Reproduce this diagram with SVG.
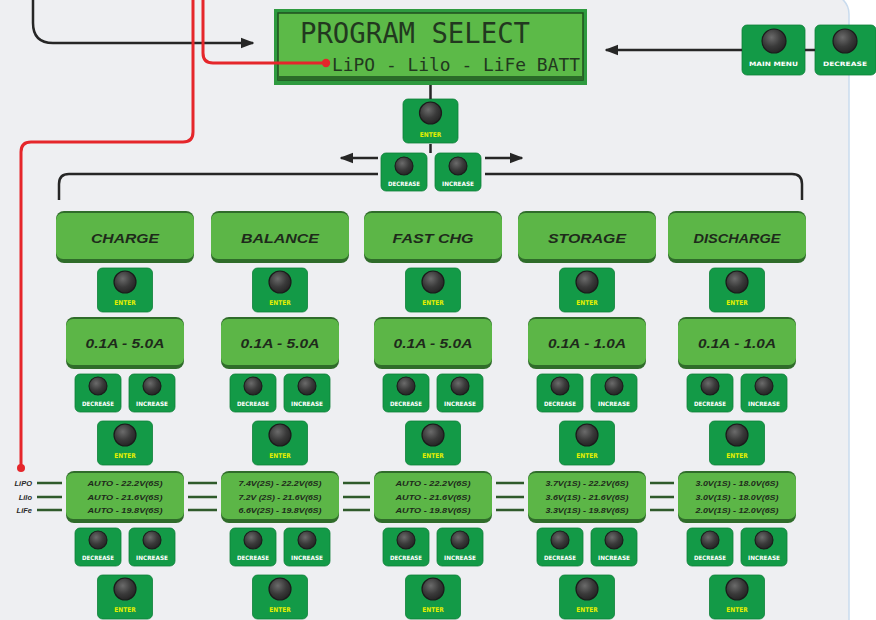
<svg xmlns="http://www.w3.org/2000/svg" width="876" height="620" viewBox="0 0 876 620">
<style>
.btn{fill:#139a47;stroke:#0e8039;stroke-width:0.8}
.shd{fill:#b9c2bb}
.bdark{fill:#2f6c2a}
.blite{fill:#5cb647}
.lw{font-family:"DejaVu Sans Condensed","DejaVu Sans",sans-serif;font-weight:bold;font-size:6px;fill:#ffffff;text-anchor:middle}
.ly{font-family:"DejaVu Sans Condensed","DejaVu Sans",sans-serif;font-weight:bold;font-size:6.5px;fill:#e4ef00;text-anchor:middle}
.mt{font-family:"Liberation Sans",Arial,sans-serif;font-weight:bold;font-style:italic;font-size:13.5px;fill:#1e2a1b;text-anchor:middle}
.vt{font-family:"Liberation Sans",Arial,sans-serif;font-weight:bold;font-style:italic;font-size:7px;fill:#1e2a1b;text-anchor:middle}
.bt{font-family:"Liberation Sans",Arial,sans-serif;font-weight:bold;font-style:italic;font-size:7.5px;fill:#2a2a2a;text-anchor:end}
.lcd{font-family:"DejaVu Sans Mono","Liberation Mono",monospace;fill:#22381f}
.blk{fill:none;stroke:#262626;stroke-width:2.5}
.red{fill:none;stroke:#e5262b;stroke-width:3}
.tri{fill:none;stroke:#2f5a2b;stroke-width:2.6}
</style>
<defs>
<radialGradient id="kg" cx="40%" cy="35%" r="70%">
<stop offset="0" stop-color="#6b6b6b"/><stop offset="0.55" stop-color="#3a3a3a"/><stop offset="1" stop-color="#222"/>
</radialGradient>
<marker id="ah" viewBox="0 0 10 10" refX="9" refY="5" markerWidth="5.5" markerHeight="5.5" orient="auto" markerUnits="strokeWidth">
<path d="M0,1 L10,5 L0,9 z" fill="#262626"/>
</marker>
<rect id="bL" width="55" height="44" rx="5"/>
<rect id="bS" width="46" height="38" rx="5"/>
<circle id="kL" r="11" fill="url(#kg)" stroke="#1b1b1b" stroke-width="1.2"/>
<circle id="kS" r="9" fill="url(#kg)" stroke="#1b1b1b" stroke-width="1.1"/>
<circle id="kM" r="12" fill="url(#kg)" stroke="#1b1b1b" stroke-width="1.2"/>
</defs>

<rect x="-20" y="-6" width="869" height="650" rx="20" fill="#eeeff2" stroke="#c9dbee" stroke-width="1.5"/>

<g id="battery-labels">
<text class="bt" x="32" y="486">LiPO</text>
<text class="bt" x="32" y="500">Lilo</text>
<text class="bt" x="32" y="513">LiFe</text>
</g>

<g id="lcd">
<rect x="274" y="9" width="313" height="76" fill="#2e9a3f"/>
<rect x="278" y="13" width="305" height="67" fill="#5cba48" stroke="#1f4f1f" stroke-width="1.5"/>
<rect x="278" y="76" width="305" height="4" fill="#2a6b28"/>
<text class="lcd" x="300" y="43" font-size="29" textLength="230" lengthAdjust="spacingAndGlyphs">PROGRAM SELECT</text>
<text class="lcd" x="332" y="71" font-size="18.5" textLength="248" lengthAdjust="spacingAndGlyphs">LiPO - Lilo - LiFe BATT</text>
</g>

<g id="btn-main-menu">
<rect x="742" y="25" width="63" height="50" rx="5" class="btn"/>
<use href="#kM" x="774" y="41"/>
<text class="lw" x="773.5" y="66" font-size="7.5" textLength="49" lengthAdjust="spacingAndGlyphs">MAIN MENU</text>
</g>
<g id="btn-top-decrease">
<rect x="815" y="25" width="61" height="50" rx="5" class="btn"/>
<use href="#kM" x="845" y="41"/>
<text class="lw" x="845" y="66" font-size="7.5" textLength="44" lengthAdjust="spacingAndGlyphs">DECREASE</text>
</g>
<g id="btn-top-enter">
<use href="#bL" x="403" y="99" class="btn"/>
<use href="#kL" x="430.5" y="113"/>
<text class="ly" x="430.5" y="137">ENTER</text>
</g>
<g id="btn-top-dec">
<use href="#bS" x="381" y="153" class="btn"/>
<use href="#kS" x="404" y="166"/>
<text class="lw" x="404" y="186" font-size="5.5" textLength="32" lengthAdjust="spacingAndGlyphs">DECREASE</text>
</g>
<g id="btn-top-inc">
<use href="#bS" x="435" y="153" class="btn"/>
<use href="#kS" x="458" y="166"/>
<text class="lw" x="458" y="186" font-size="5.5" textLength="32" lengthAdjust="spacingAndGlyphs">INCREASE</text>
</g>

<!-- Column 1: CHARGE c=125 -->
<g id="mode-charge"><rect class="bdark" x="56" y="211" width="138" height="52" rx="8"/><rect class="blite" x="56" y="213" width="138" height="46" rx="7"/><text class="mt" x="125" y="243" textLength="68" lengthAdjust="spacingAndGlyphs">CHARGE</text></g>
<g id="charge-enter1"><use href="#bL" x="97.5" y="268" class="btn"/><use href="#kL" x="125" y="282"/><text class="ly" x="125" y="305">ENTER</text></g>
<g id="charge-current"><rect class="bdark" x="66" y="317" width="118" height="52" rx="8"/><rect class="blite" x="66" y="319" width="118" height="46" rx="7"/><text class="mt" x="125" y="348" textLength="79" lengthAdjust="spacingAndGlyphs">0.1A - 5.0A</text></g>
<g id="charge-dec1"><use href="#bS" x="75" y="374" class="btn"/><use href="#kS" x="98" y="386"/><text class="lw" x="98" y="406" textLength="32" lengthAdjust="spacingAndGlyphs">DECREASE</text></g>
<g id="charge-inc1"><use href="#bS" x="129" y="374" class="btn"/><use href="#kS" x="152" y="386"/><text class="lw" x="152" y="406" textLength="32" lengthAdjust="spacingAndGlyphs">INCREASE</text></g>
<g id="charge-enter2"><use href="#bL" x="97.5" y="421" class="btn"/><use href="#kL" x="125" y="435"/><text class="ly" x="125" y="458">ENTER</text></g>
<g id="charge-volt"><rect class="bdark" x="66" y="471" width="118" height="52" rx="8"/><rect class="blite" x="66" y="473" width="118" height="46" rx="7"/>
<text class="vt" x="125" y="485.5" textLength="75" lengthAdjust="spacingAndGlyphs">AUTO - 22.2V(6S)</text>
<text class="vt" x="125" y="499.5" textLength="75" lengthAdjust="spacingAndGlyphs">AUTO - 21.6V(6S)</text>
<text class="vt" x="125" y="512.5" textLength="75" lengthAdjust="spacingAndGlyphs">AUTO - 19.8V(6S)</text></g>
<g id="charge-dec2"><use href="#bS" x="75" y="528" class="btn"/><use href="#kS" x="98" y="540"/><text class="lw" x="98" y="560" textLength="32" lengthAdjust="spacingAndGlyphs">DECREASE</text></g>
<g id="charge-inc2"><use href="#bS" x="129" y="528" class="btn"/><use href="#kS" x="152" y="540"/><text class="lw" x="152" y="560" textLength="32" lengthAdjust="spacingAndGlyphs">INCREASE</text></g>
<g id="charge-enter3"><use href="#bL" x="97.5" y="575" class="btn"/><use href="#kL" x="125" y="589"/><text class="ly" x="125" y="612">ENTER</text></g>

<!-- Column 2: BALANCE c=280 -->
<g id="mode-balance"><rect class="bdark" x="211" y="211" width="138" height="52" rx="8"/><rect class="blite" x="211" y="213" width="138" height="46" rx="7"/><text class="mt" x="280" y="243" textLength="78" lengthAdjust="spacingAndGlyphs">BALANCE</text></g>
<g id="balance-enter1"><use href="#bL" x="252.5" y="268" class="btn"/><use href="#kL" x="280" y="282"/><text class="ly" x="280" y="305">ENTER</text></g>
<g id="balance-current"><rect class="bdark" x="221" y="317" width="118" height="52" rx="8"/><rect class="blite" x="221" y="319" width="118" height="46" rx="7"/><text class="mt" x="280" y="348" textLength="79" lengthAdjust="spacingAndGlyphs">0.1A - 5.0A</text></g>
<g id="balance-dec1"><use href="#bS" x="230" y="374" class="btn"/><use href="#kS" x="253" y="386"/><text class="lw" x="253" y="406" textLength="32" lengthAdjust="spacingAndGlyphs">DECREASE</text></g>
<g id="balance-inc1"><use href="#bS" x="284" y="374" class="btn"/><use href="#kS" x="307" y="386"/><text class="lw" x="307" y="406" textLength="32" lengthAdjust="spacingAndGlyphs">INCREASE</text></g>
<g id="balance-enter2"><use href="#bL" x="252.5" y="421" class="btn"/><use href="#kL" x="280" y="435"/><text class="ly" x="280" y="458">ENTER</text></g>
<g id="balance-volt"><rect class="bdark" x="221" y="471" width="118" height="52" rx="8"/><rect class="blite" x="221" y="473" width="118" height="46" rx="7"/>
<text class="vt" x="280" y="485.5" textLength="83" lengthAdjust="spacingAndGlyphs">7.4V(2S) - 22.2V(6S)</text>
<text class="vt" x="280" y="499.5" textLength="83" lengthAdjust="spacingAndGlyphs">7.2V (2S) - 21.6V(6S)</text>
<text class="vt" x="280" y="512.5" textLength="83" lengthAdjust="spacingAndGlyphs">6.6V(2S) - 19.8V(6S)</text></g>
<g id="balance-dec2"><use href="#bS" x="230" y="528" class="btn"/><use href="#kS" x="253" y="540"/><text class="lw" x="253" y="560" textLength="32" lengthAdjust="spacingAndGlyphs">DECREASE</text></g>
<g id="balance-inc2"><use href="#bS" x="284" y="528" class="btn"/><use href="#kS" x="307" y="540"/><text class="lw" x="307" y="560" textLength="32" lengthAdjust="spacingAndGlyphs">INCREASE</text></g>
<g id="balance-enter3"><use href="#bL" x="252.5" y="575" class="btn"/><use href="#kL" x="280" y="589"/><text class="ly" x="280" y="612">ENTER</text></g>

<!-- Column 3: FAST CHG c=433 -->
<g id="mode-fastchg"><rect class="bdark" x="364" y="211" width="138" height="52" rx="8"/><rect class="blite" x="364" y="213" width="138" height="46" rx="7"/><text class="mt" x="433" y="243" textLength="81" lengthAdjust="spacingAndGlyphs">FAST CHG</text></g>
<g id="fastchg-enter1"><use href="#bL" x="405.5" y="268" class="btn"/><use href="#kL" x="433" y="282"/><text class="ly" x="433" y="305">ENTER</text></g>
<g id="fastchg-current"><rect class="bdark" x="374" y="317" width="118" height="52" rx="8"/><rect class="blite" x="374" y="319" width="118" height="46" rx="7"/><text class="mt" x="433" y="348" textLength="79" lengthAdjust="spacingAndGlyphs">0.1A - 5.0A</text></g>
<g id="fastchg-dec1"><use href="#bS" x="383" y="374" class="btn"/><use href="#kS" x="406" y="386"/><text class="lw" x="406" y="406" textLength="32" lengthAdjust="spacingAndGlyphs">DECREASE</text></g>
<g id="fastchg-inc1"><use href="#bS" x="437" y="374" class="btn"/><use href="#kS" x="460" y="386"/><text class="lw" x="460" y="406" textLength="32" lengthAdjust="spacingAndGlyphs">INCREASE</text></g>
<g id="fastchg-enter2"><use href="#bL" x="405.5" y="421" class="btn"/><use href="#kL" x="433" y="435"/><text class="ly" x="433" y="458">ENTER</text></g>
<g id="fastchg-volt"><rect class="bdark" x="374" y="471" width="118" height="52" rx="8"/><rect class="blite" x="374" y="473" width="118" height="46" rx="7"/>
<text class="vt" x="433" y="485.5" textLength="75" lengthAdjust="spacingAndGlyphs">AUTO - 22.2V(6S)</text>
<text class="vt" x="433" y="499.5" textLength="75" lengthAdjust="spacingAndGlyphs">AUTO - 21.6V(6S)</text>
<text class="vt" x="433" y="512.5" textLength="75" lengthAdjust="spacingAndGlyphs">AUTO - 19.8V(6S)</text></g>
<g id="fastchg-dec2"><use href="#bS" x="383" y="528" class="btn"/><use href="#kS" x="406" y="540"/><text class="lw" x="406" y="560" textLength="32" lengthAdjust="spacingAndGlyphs">DECREASE</text></g>
<g id="fastchg-inc2"><use href="#bS" x="437" y="528" class="btn"/><use href="#kS" x="460" y="540"/><text class="lw" x="460" y="560" textLength="32" lengthAdjust="spacingAndGlyphs">INCREASE</text></g>
<g id="fastchg-enter3"><use href="#bL" x="405.5" y="575" class="btn"/><use href="#kL" x="433" y="589"/><text class="ly" x="433" y="612">ENTER</text></g>

<!-- Column 4: STORAGE c=587 -->
<g id="mode-storage"><rect class="bdark" x="518" y="211" width="138" height="52" rx="8"/><rect class="blite" x="518" y="213" width="138" height="46" rx="7"/><text class="mt" x="587" y="243" textLength="78" lengthAdjust="spacingAndGlyphs">STORAGE</text></g>
<g id="storage-enter1"><use href="#bL" x="559.5" y="268" class="btn"/><use href="#kL" x="587" y="282"/><text class="ly" x="587" y="305">ENTER</text></g>
<g id="storage-current"><rect class="bdark" x="528" y="317" width="118" height="52" rx="8"/><rect class="blite" x="528" y="319" width="118" height="46" rx="7"/><text class="mt" x="587" y="348" textLength="78" lengthAdjust="spacingAndGlyphs">0.1A - 1.0A</text></g>
<g id="storage-dec1"><use href="#bS" x="537" y="374" class="btn"/><use href="#kS" x="560" y="386"/><text class="lw" x="560" y="406" textLength="32" lengthAdjust="spacingAndGlyphs">DECREASE</text></g>
<g id="storage-inc1"><use href="#bS" x="591" y="374" class="btn"/><use href="#kS" x="614" y="386"/><text class="lw" x="614" y="406" textLength="32" lengthAdjust="spacingAndGlyphs">INCREASE</text></g>
<g id="storage-enter2"><use href="#bL" x="559.5" y="421" class="btn"/><use href="#kL" x="587" y="435"/><text class="ly" x="587" y="458">ENTER</text></g>
<g id="storage-volt"><rect class="bdark" x="528" y="471" width="118" height="52" rx="8"/><rect class="blite" x="528" y="473" width="118" height="46" rx="7"/>
<text class="vt" x="587" y="485.5" textLength="83" lengthAdjust="spacingAndGlyphs">3.7V(1S) - 22.2V(6S)</text>
<text class="vt" x="587" y="499.5" textLength="83" lengthAdjust="spacingAndGlyphs">3.6V(1S) - 21.6V(6S)</text>
<text class="vt" x="587" y="512.5" textLength="83" lengthAdjust="spacingAndGlyphs">3.3V(1S) - 19.8V(6S)</text></g>
<g id="storage-dec2"><use href="#bS" x="537" y="528" class="btn"/><use href="#kS" x="560" y="540"/><text class="lw" x="560" y="560" textLength="32" lengthAdjust="spacingAndGlyphs">DECREASE</text></g>
<g id="storage-inc2"><use href="#bS" x="591" y="528" class="btn"/><use href="#kS" x="614" y="540"/><text class="lw" x="614" y="560" textLength="32" lengthAdjust="spacingAndGlyphs">INCREASE</text></g>
<g id="storage-enter3"><use href="#bL" x="559.5" y="575" class="btn"/><use href="#kL" x="587" y="589"/><text class="ly" x="587" y="612">ENTER</text></g>

<!-- Column 5: DISCHARGE c=737 -->
<g id="mode-discharge"><rect class="bdark" x="668" y="211" width="138" height="52" rx="8"/><rect class="blite" x="668" y="213" width="138" height="46" rx="7"/><text class="mt" x="737" y="243" textLength="87" lengthAdjust="spacingAndGlyphs">DISCHARGE</text></g>
<g id="discharge-enter1"><use href="#bL" x="709.5" y="268" class="btn"/><use href="#kL" x="737" y="282"/><text class="ly" x="737" y="305">ENTER</text></g>
<g id="discharge-current"><rect class="bdark" x="678" y="317" width="118" height="52" rx="8"/><rect class="blite" x="678" y="319" width="118" height="46" rx="7"/><text class="mt" x="737" y="348" textLength="78" lengthAdjust="spacingAndGlyphs">0.1A - 1.0A</text></g>
<g id="discharge-dec1"><use href="#bS" x="687" y="374" class="btn"/><use href="#kS" x="710" y="386"/><text class="lw" x="710" y="406" textLength="32" lengthAdjust="spacingAndGlyphs">DECREASE</text></g>
<g id="discharge-inc1"><use href="#bS" x="741" y="374" class="btn"/><use href="#kS" x="764" y="386"/><text class="lw" x="764" y="406" textLength="32" lengthAdjust="spacingAndGlyphs">INCREASE</text></g>
<g id="discharge-enter2"><use href="#bL" x="709.5" y="421" class="btn"/><use href="#kL" x="737" y="435"/><text class="ly" x="737" y="458">ENTER</text></g>
<g id="discharge-volt"><rect class="bdark" x="678" y="471" width="118" height="52" rx="8"/><rect class="blite" x="678" y="473" width="118" height="46" rx="7"/>
<text class="vt" x="737" y="485.5" textLength="83" lengthAdjust="spacingAndGlyphs">3.0V(1S) - 18.0V(6S)</text>
<text class="vt" x="737" y="499.5" textLength="83" lengthAdjust="spacingAndGlyphs">3.0V(1S) - 18.0V(6S)</text>
<text class="vt" x="737" y="512.5" textLength="83" lengthAdjust="spacingAndGlyphs">2.0V(1S) - 12.0V(6S)</text></g>
<g id="discharge-dec2"><use href="#bS" x="687" y="528" class="btn"/><use href="#kS" x="710" y="540"/><text class="lw" x="710" y="560" textLength="32" lengthAdjust="spacingAndGlyphs">DECREASE</text></g>
<g id="discharge-inc2"><use href="#bS" x="741" y="528" class="btn"/><use href="#kS" x="764" y="540"/><text class="lw" x="764" y="560" textLength="32" lengthAdjust="spacingAndGlyphs">INCREASE</text></g>
<g id="discharge-enter3"><use href="#bL" x="709.5" y="575" class="btn"/><use href="#kL" x="737" y="589"/><text class="ly" x="737" y="612">ENTER</text></g>

<g id="connectors">
<path class="blk" d="M33,0 V23 Q33,43 53,43 H253" marker-end="url(#ah)"/>
<path class="blk" d="M742,50 H606" marker-end="url(#ah)"/>
<path class="blk" d="M805,50 H815"/>
<path class="blk" d="M430.5,85 V99 M430.5,144 V153"/>
<path class="blk" d="M378,158 H341" marker-end="url(#ah)" stroke-width="3"/>
<path class="blk" d="M485,158 H522" marker-end="url(#ah)" stroke-width="3"/>
<path class="blk" d="M378,174 H69 Q59,174 59,184 V200" stroke-width="2"/>
<path class="blk" d="M485,174 H792 Q802,174 802,184 V200" stroke-width="2"/>
<path class="red" d="M193,0 V132 Q193,142 183,142 H31 Q21,142 21,152 V466"/>
<circle cx="21" cy="468" r="4" fill="#e5262b"/>
<path class="red" d="M203,0 V53 Q203,63 213,63 H322"/>
<circle cx="326" cy="63" r="4.2" fill="#e5262b"/>
<path class="tri" d="M37,483 H62 M37,497 H62 M37,510 H62"/>
<path class="tri" d="M188,483 H217 M188,497 H217 M188,510 H217"/>
<path class="tri" d="M343,483 H370 M343,497 H370 M343,510 H370"/>
<path class="tri" d="M496,483 H524 M496,497 H524 M496,510 H524"/>
<path class="tri" d="M650,483 H674 M650,497 H674 M650,510 H674"/>
</g>
</svg>
